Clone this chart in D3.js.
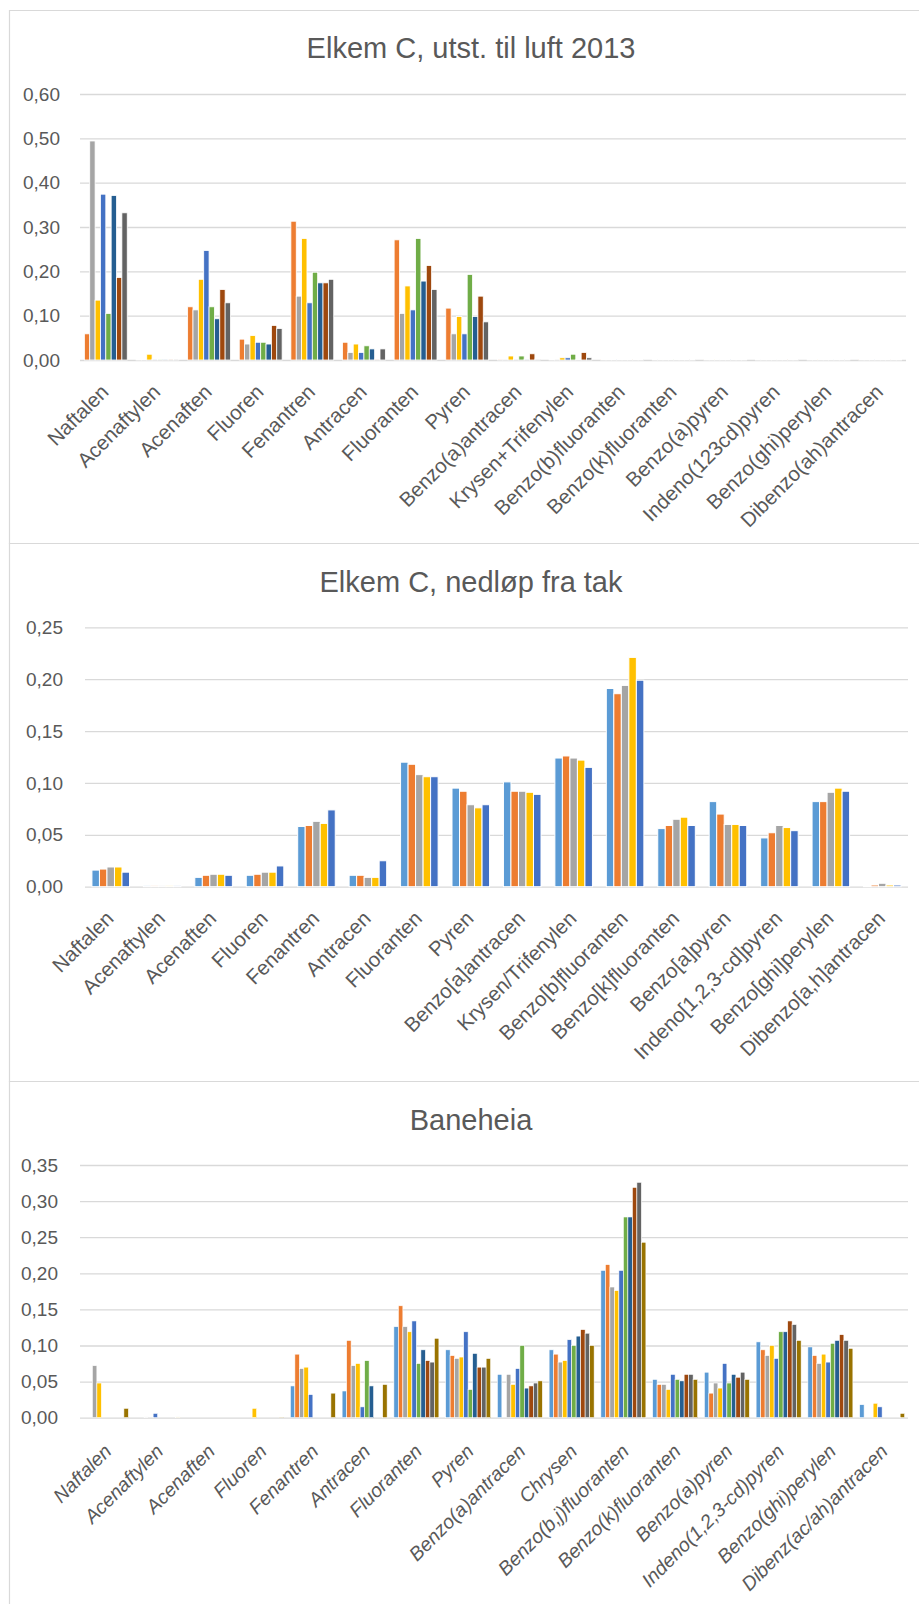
<!DOCTYPE html>
<html>
<head>
<meta charset="utf-8">
<script src="https://cdn.jsdelivr.net/npm/d3@7"></script>
<style>
  html, body { margin: 0; padding: 0; background: #ffffff; }
  svg { display: block; }
  text { font-family: "Liberation Sans", Arial, sans-serif; fill: #595959; }
</style>
</head>
<body>
<svg id="chart" width="919" height="1604"></svg>
<script>
// ---------- Elkem C, utst. til luft 2013 ----------
const catsAir = ["Naftalen","Acenaftylen","Acenaften","Fluoren","Fenantren","Antracen","Fluoranten","Pyren",
  "Benzo(a)antracen","Krysen+Trifenylen","Benzo(b)fluoranten","Benzo(k)fluoranten","Benzo(a)pyren",
  "Indeno(123cd)pyren","Benzo(ghi)perylen","Dibenzo(ah)antracen"];
const air1 = [0.059,0.001,0.120,0.047,0.313,0.040,0.271,0.117,0.002,0.001,0.0015,0.0015,0.0015,0.0015,0.0015,0.0015];
const air2 = [0.494,0.001,0.113,0.036,0.144,0.017,0.105,0.059,0.002,0.002,0.0015,0.0015,0.0015,0.0015,0.0015,0.0015];
const air3 = [0.135,0.013,0.182,0.055,0.274,0.036,0.167,0.098,0.009,0.005,0.0015,0.0015,0.0015,0.0015,0.0015,0.0015];
const air4 = [0.374,0.002,0.247,0.040,0.129,0.017,0.113,0.059,0.002,0.005,0.0015,0.0015,0.0015,0.0015,0.0015,0.0015];
const air5 = [0.105,0.002,0.120,0.040,0.198,0.032,0.274,0.193,0.009,0.013,0.0015,0.0015,0.0015,0.0015,0.0015,0.0015];
const air6 = [0.371,0.002,0.093,0.036,0.174,0.025,0.178,0.098,0.002,0.001,0.0015,0.0015,0.0015,0.0015,0.0015,0.0015];
const air7 = [0.186,0.002,0.159,0.078,0.174,0.002,0.213,0.144,0.014,0.017,0.0015,0.0015,0.0015,0.0015,0.0015,0.0015];
const air8 = [0.332,0.002,0.129,0.071,0.182,0.025,0.159,0.086,0.002,0.005,0.0015,0.0015,0.0015,0.0015,0.0015,0.0015];
const airTicks = [0,0.1,0.2,0.3,0.4,0.5,0.6];

// ---------- Elkem C, nedløp fra tak ----------
const catsRoof = ["Naftalen","Acenaftylen","Acenaften","Fluoren","Fenantren","Antracen","Fluoranten","Pyren",
  "Benzo[a]antracen","Krysen/Trifenylen","Benzo[b]fluoranten","Benzo[k]fluoranten","Benzo[a]pyren",
  "Indeno[1,2,3-cd]pyren","Benzo[ghi]perylen","Dibenzo[a,h]antracen"];
const roof1 = [0.016,0.001,0.009,0.011,0.058,0.011,0.120,0.095,0.101,0.124,0.191,0.056,0.082,0.047,0.082,0.0005];
const roof2 = [0.017,0.001,0.011,0.012,0.059,0.011,0.118,0.092,0.092,0.126,0.186,0.059,0.070,0.052,0.082,0.0016];
const roof3 = [0.019,0.001,0.012,0.014,0.063,0.009,0.108,0.079,0.092,0.124,0.194,0.065,0.060,0.059,0.091,0.0033];
const roof4 = [0.019,0.001,0.012,0.014,0.061,0.009,0.106,0.076,0.091,0.122,0.221,0.067,0.060,0.057,0.095,0.0016];
const roof5 = [0.014,0.001,0.011,0.020,0.074,0.025,0.106,0.079,0.089,0.115,0.199,0.059,0.059,0.054,0.092,0.0016];
const roofTicks = [0,0.05,0.10,0.15,0.20,0.25];

// ---------- Baneheia ----------
const catsBane = ["Naftalen","Acenaftylen","Acenaften","Fluoren","Fenantren","Antracen","Fluoranten","Pyren",
  "Benzo(a)antracen","Chrysen","Benzo(b,j)fluoranten","Benzo(k)fluoranten","Benzo(a)pyren",
  "Indeno(1,2,3-cd)pyren","Benzo(ghi)perylen","Dibenz(ac/ah)antracen"];
const bane1  = [0,0,0,0,0.044,0.037,0.126,0.094,0.060,0.094,0.204,0.053,0.063,0.105,0.098,0.018];
const bane2  = [0,0,0,0,0.088,0.107,0.155,0.086,0,0.088,0.212,0.046,0.034,0.094,0.086,0];
const bane3  = [0.072,0.001,0,0,0.068,0.072,0.126,0.082,0.060,0.077,0.181,0.046,0.048,0.086,0.075,0];
const bane4  = [0.048,0,0,0.013,0.070,0.075,0.119,0.084,0.046,0.079,0.176,0.039,0.041,0.100,0.088,0.020];
const bane5  = [0,0.006,0,0,0.032,0.015,0.134,0.119,0.068,0.108,0.204,0.060,0.075,0.082,0.077,0.015];
const bane6  = [0,0,0,0,0,0.079,0.075,0.039,0.100,0.100,0.278,0.053,0.048,0.119,0.103,0];
const bane7  = [0,0,0,0,0,0.044,0.094,0.089,0.041,0.113,0.278,0.051,0.060,0.119,0.107,0];
const bane8  = [0,0,0,0,0,0,0.079,0.070,0.044,0.122,0.319,0.060,0.056,0.134,0.115,0];
const bane9  = [0,0,0,0,0,0,0.077,0.070,0.048,0.117,0.326,0.060,0.063,0.129,0.107,0];
const bane10 = [0.013,0.001,0,0.0005,0.034,0.046,0.110,0.082,0.051,0.100,0.243,0.053,0.053,0.107,0.096,0.006];
const baneTicks = [0,0.05,0.10,0.15,0.20,0.25,0.30,0.35];

// Office palette
const C = { lb:"#5B9BD5", orange:"#ED7D31", gray:"#A5A5A5", yellow:"#FFC000", blue:"#4472C4",
            green:"#70AD47", navy:"#255E91", brown:"#9E480E", dgray:"#636363", olive:"#997300" };

const fmt = d3.formatLocale({ decimal: ",", thousands: " ", grouping: [3], currency: ["", " kr"] }).format(".2f");
const svg = d3.select("#chart");

function panel(cfg) {
  const g = svg.append("g");

  // frame
  g.append("path")
    .attr("d", `M930,${cfg.top} H9.5 V${cfg.bottom} H930`)
    .attr("fill", "none").attr("stroke", "#D9D9D9").attr("stroke-width", 1.2);

  // title
  g.append("text")
    .attr("x", 471).attr("y", cfg.titleY)
    .attr("text-anchor", "middle")
    .style("font-size", "29px")
    .text(cfg.title);

  const y = d3.scaleLinear().domain([0, cfg.ticks[cfg.ticks.length - 1]]).range([cfg.base, cfg.gridTop]);
  const x0 = d3.scaleBand().domain(cfg.categories).range([cfg.left, cfg.right])
    .paddingInner(cfg.pad).paddingOuter(cfg.pad / 2);
  const x1 = d3.scaleBand().domain(d3.range(cfg.series.length)).range([0, x0.bandwidth()]);

  // gridlines + value labels
  const ax = g.append("g").attr("transform", `translate(${cfg.left},0)`)
    .call(d3.axisLeft(y).tickValues(cfg.ticks).tickFormat(fmt)
      .tickSize(-(cfg.right - cfg.left)).tickPadding(cfg.left - cfg.labelRight));
  ax.select(".domain").remove();
  ax.selectAll(".tick line").attr("stroke", "#D9D9D9").attr("stroke-width", 1.3);
  ax.selectAll(".tick text").style("font-size", "19px").attr("fill", "#595959")
    .style("font-family", '"Liberation Sans", Arial, sans-serif');

  // bars
  cfg.series.forEach((s, si) => {
    g.append("g").selectAll("rect")
      .data(s.values.map((v, i) => ({ cat: cfg.categories[i], v })))
      .join("rect")
      .attr("x", d => x0(d.cat) + x1(si))
      .attr("width", x1.bandwidth())
      .attr("y", d => y(d.v))
      .attr("height", d => y(0) - y(d.v))
      .attr("fill", s.color)
      .attr("stroke", "#ffffff")
      .attr("stroke-width", cfg.stroke);
  });

  // category labels, rotated 45°
  g.append("g").selectAll("text")
    .data(cfg.categories)
    .join("text")
    .attr("transform", d => `translate(${x0(d) + x0.bandwidth() / 2 + cfg.labelDx},${cfg.base + cfg.labelDy}) rotate(-45)`)
    .attr("text-anchor", "end")
    .attr("dy", "0.35em")
    .style("font-size", cfg.labelSize + "px")
    .style("font-style", cfg.italic ? "italic" : "normal")
    .text(d => d);
}

panel({
  title: "Elkem C, utst. til luft 2013", top: 10.5, bottom: 543.5, titleY: 58,
  categories: catsAir, ticks: airTicks, gridTop: 94, base: 360,
  left: 80, right: 906, labelRight: 60, pad: 0.17, stroke: 0.8,
  labelDx: -1, labelDy: 28, labelSize: 20.5, italic: false,
  series: [
    { name: "Prøve 1", color: C.orange, values: air1 },
    { name: "Prøve 2", color: C.gray,   values: air2 },
    { name: "Prøve 3", color: C.yellow, values: air3 },
    { name: "Prøve 4", color: C.blue,   values: air4 },
    { name: "Prøve 5", color: C.green,  values: air5 },
    { name: "Prøve 6", color: C.navy,   values: air6 },
    { name: "Prøve 7", color: C.brown,  values: air7 },
    { name: "Prøve 8", color: C.dgray,  values: air8 }
  ]
});

panel({
  title: "Elkem C, nedløp fra tak", top: 543.5, bottom: 1081.5, titleY: 592,
  categories: catsRoof, ticks: roofTicks, gridTop: 627.3, base: 886.7,
  left: 85, right: 908, labelRight: 63, pad: 0.27, stroke: 1,
  labelDx: -1, labelDy: 28, labelSize: 20.5, italic: false,
  series: [
    { name: "Prøve 1", color: C.lb,     values: roof1 },
    { name: "Prøve 2", color: C.orange, values: roof2 },
    { name: "Prøve 3", color: C.gray,   values: roof3 },
    { name: "Prøve 4", color: C.yellow, values: roof4 },
    { name: "Prøve 5", color: C.blue,   values: roof5 }
  ]
});

panel({
  title: "Baneheia", top: 1081.5, bottom: 1640, titleY: 1130,
  categories: catsBane, ticks: baneTicks, gridTop: 1165, base: 1417.7,
  left: 80, right: 908, labelRight: 58, pad: 0.13, stroke: 0.6,
  labelDx: 2, labelDy: 30, labelSize: 19.5, italic: true,
  series: [
    { name: "Prøve 1",  color: C.lb,     values: bane1 },
    { name: "Prøve 2",  color: C.orange, values: bane2 },
    { name: "Prøve 3",  color: C.gray,   values: bane3 },
    { name: "Prøve 4",  color: C.yellow, values: bane4 },
    { name: "Prøve 5",  color: C.blue,   values: bane5 },
    { name: "Prøve 6",  color: C.green,  values: bane6 },
    { name: "Prøve 7",  color: C.navy,   values: bane7 },
    { name: "Prøve 8",  color: C.brown,  values: bane8 },
    { name: "Prøve 9",  color: C.dgray,  values: bane9 },
    { name: "Prøve 10", color: C.olive,  values: bane10 }
  ]
});
</script>
</body>
</html>
